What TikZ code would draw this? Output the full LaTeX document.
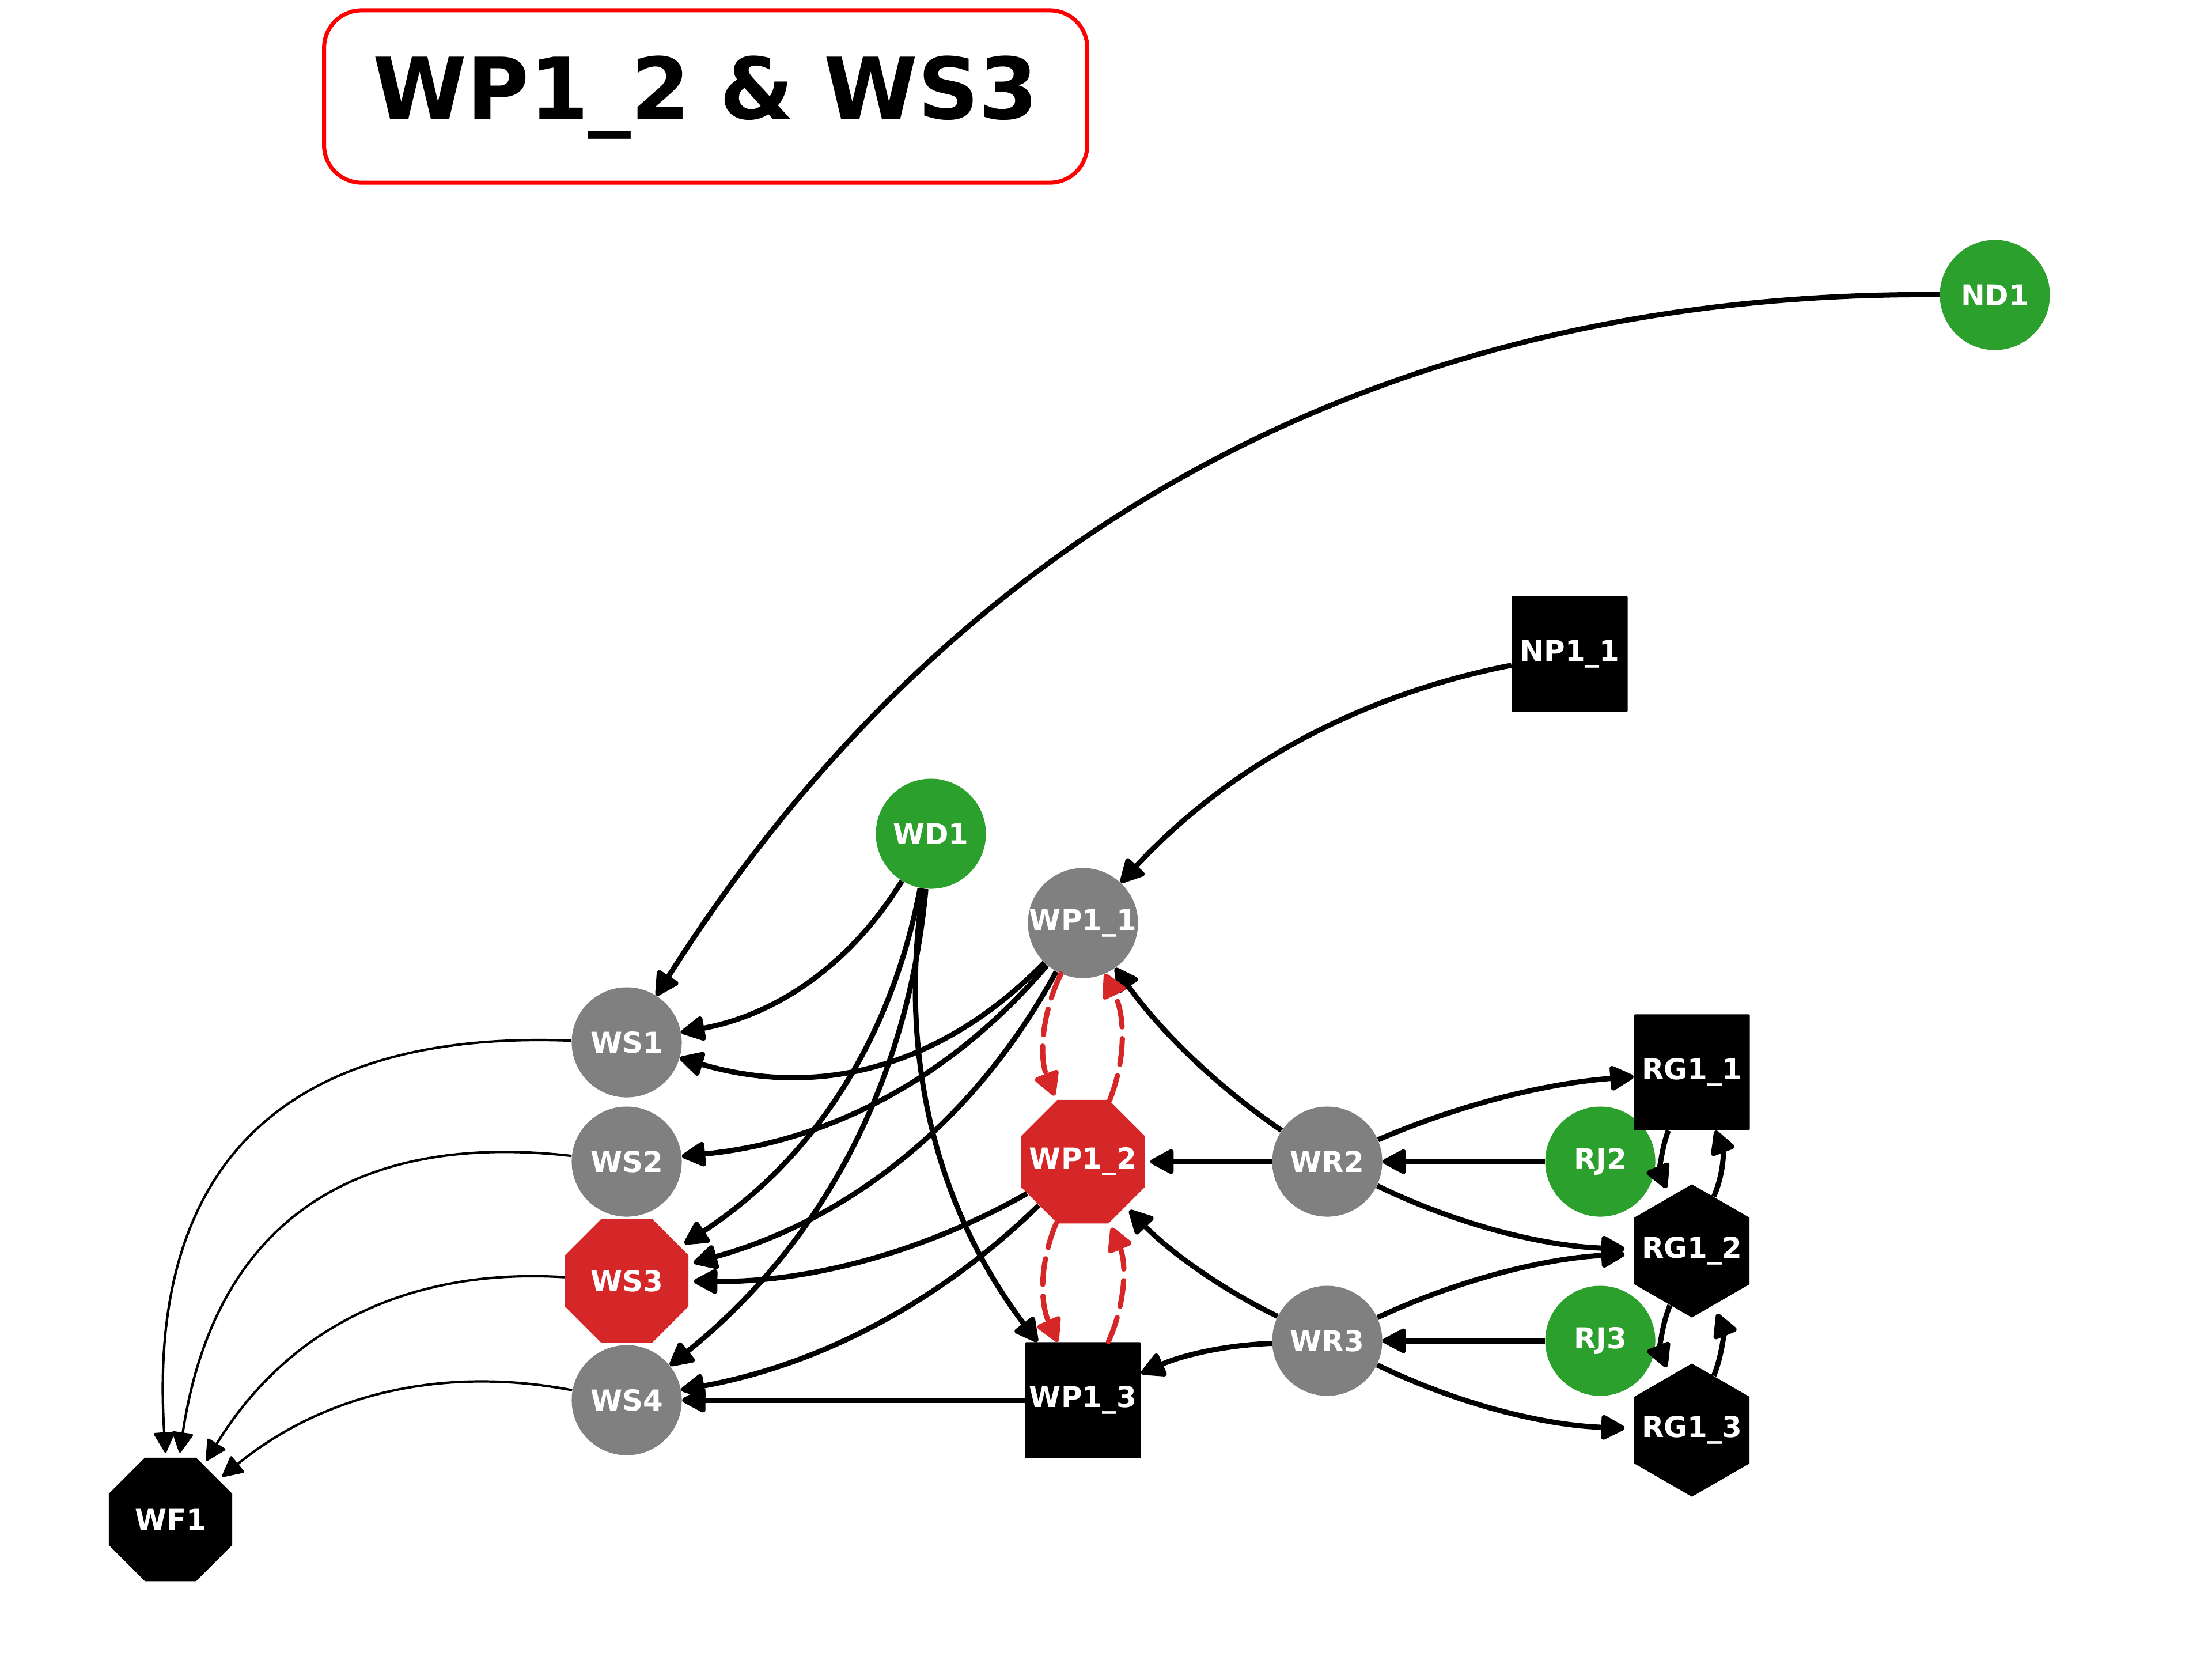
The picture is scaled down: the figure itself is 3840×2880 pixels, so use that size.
\documentclass[tikz,border=0pt]{standalone}
\usepackage{fontspec}
\setmainfont{DejaVu Sans}
\usetikzlibrary{arrows.meta,shapes.geometric}
\definecolor{ngreen}{HTML}{2CA02C}
\definecolor{nred}{HTML}{D62728}
\definecolor{ngray}{HTML}{808080}
\newcommand\ctext[1]{\makebox[0pt]{#1}}
\begin{document}
\begin{tikzpicture}[x=0.01cm,y=-0.01cm,
  lbl/.style={text=white,font=\fontsize{14.2}{16}\selectfont\bfseries,inner sep=0pt},
  circ/.style={lbl,circle,minimum size=1.91cm},
  gnode/.style={circ,fill=ngreen},
  ynode/.style={circ,fill=ngray},
  sqnode/.style={lbl,rectangle,fill=black,minimum size=2.01cm,rounded corners=0.02cm},
  octnode/.style={lbl,regular polygon,regular polygon sides=8,minimum size=2.32cm},
  hexnode/.style={lbl,regular polygon,regular polygon sides=6,shape border rotate=30,minimum size=2.31cm,fill=black},
  arr/.style={line width=0.09cm,-{Triangle[length=0.46cm,width=0.46cm,round]}},
  wfarr/.style={line width=0.042cm,shorten >=0.08cm,-{Triangle[length=0.38cm,width=0.38cm,round]}},
  rdash/.style={nred,line width=0.09cm,dash pattern=on 0.45cm off 0.2cm,line cap=round,-{Triangle[length=0.46cm,width=0.47cm,round]}},
  gapO/.style={shorten >=0.09cm},
  gapH/.style={shorten >=0.16cm},
]
\useasboundingbox (0,0) rectangle (3840,2880);

\node[draw=red,line width=0.07cm,rounded corners=0.65cm,minimum width=13.24cm,minimum height=2.99cm,inner sep=0pt,text height=0.77cm,text depth=0pt,font=\fontsize{42}{50}\selectfont\bfseries] (title) at (1225,167.5) {WP1\_2 \& WS3};

\node[ynode] (WS1) at (1088,1809) {\ctext{WS1}};
\node[ynode] (WS2) at (1088,2016) {\ctext{WS2}};
\node[octnode,fill=nred] (WS3) at (1088,2223) {\ctext{WS3}};
\node[ynode] (WS4) at (1088,2430) {\ctext{WS4}};
\node[octnode,fill=black] (WF1) at (296,2637) {\ctext{WF1}};
\node[gnode] (WD1) at (1616,1447) {\ctext{WD1}};
\node[ynode] (WP11) at (1880,1602) {\ctext{WP1\_1}};
\node[octnode,fill=nred] (WP12) at (1880,2016) {\ctext{WP1\_2}};
\node[sqnode] (WP13) at (1880,2430) {\ctext{WP1\_3}};
\node[ynode] (WR2) at (2304,2016) {\ctext{WR2}};
\node[ynode] (WR3) at (2304,2327) {\ctext{WR3}};
\node[gnode] (RJ2) at (2778,2016) {\ctext{RJ2}};
\node[gnode] (RJ3) at (2778,2327) {\ctext{RJ3}};
\node[sqnode] (RG11) at (2937,1861) {\ctext{RG1\_1}};
\node[hexnode] (RG12) at (2937,2171) {\ctext{RG1\_2}};
\node[hexnode] (RG13) at (2937,2482) {\ctext{RG1\_3}};
\node[sqnode] (NP11) at (2725,1135) {\ctext{NP1\_1}};
\node[gnode] (ND1) at (3463,512) {\ctext{ND1}};

\draw[arr] (ND1) to[bend right=29,looseness=0.97] (WS1);
\draw[arr] (NP11) to[bend right=18,looseness=0.9] (WP11);
\draw[arr] (WD1) to[bend left=24,looseness=0.93] (WS1);
\draw[arr,gapO] (WD1) to[bend left=23,looseness=0.93] (WS3);
\draw[arr] (WD1) to[bend left=23,looseness=0.92] (WS4);
\draw[arr] (WD1) to[bend right=23,looseness=0.92] (WP13);
\draw[arr] (WP11) to[bend left=31,looseness=0.99] (WS1);
\draw[arr] (WP11) to[bend left=22,looseness=0.92] (WS2);
\draw[arr,gapO] (WP11) to[bend left=23,looseness=0.92] (WS3);
\draw[arr,gapO] (WP12) to[bend left=15,looseness=0.88] (WS3);
\draw[arr] (WP12) to[bend left=17,looseness=0.89] (WS4);
\draw[arr] (WP13) -- (WS4);
\draw[arr] (WR2) to[bend left=10,looseness=0.86] (WP11);
\draw[arr,gapO] (WR2) -- (WP12);
\draw[arr,gapO] (WR3) to[bend left=10,looseness=0.86] (WP12);
\draw[arr] (WR3) to[bend right=11,looseness=0.87] (WP13);
\draw[arr] (RJ2) -- (WR2);
\draw[arr] (RJ3) -- (WR3);
\draw[arr] (WR2) to[bend left=9.5,looseness=0.86] (RG11);
\draw[arr,gapH] (WR2) to[bend right=12,looseness=0.87] (RG12);
\draw[arr,gapH] (WR3) to[bend left=11,looseness=0.87] (RG12);
\draw[arr,gapH] (WR3) to[bend right=12,looseness=0.87] (RG13);
\draw[arr,gapH] (RG11) to[bend right=22,looseness=0.92] (RG12);
\draw[arr] (RG12) to[bend right=22,looseness=0.92] (RG11);
\draw[arr,gapH] (RG12) to[bend right=22,looseness=0.92] (RG13);
\draw[arr,gapH] (RG13) to[bend right=22,looseness=0.92] (RG12);
\draw[rdash,gapO] (WP11) to[bend right=23.5,looseness=0.93] (WP12);
\draw[rdash] (WP12) to[bend right=23.5,looseness=0.93] (WP11);
\draw[rdash] (WP12) to[bend right=23.5,looseness=0.93] (WP13);
\draw[rdash,gapO] (WP13) to[bend right=23.5,looseness=0.93] (WP12);
\draw[wfarr] (WS1) to[bend right=48,looseness=1.28] (WF1);
\draw[wfarr] (WS2) to[bend right=44,looseness=1.18] (WF1);
\draw[wfarr] (WS3) to[bend right=31,looseness=1.0] (WF1);
\draw[wfarr] (WS4) to[bend right=25,looseness=0.94] (WF1);
\end{tikzpicture}
\end{document}
